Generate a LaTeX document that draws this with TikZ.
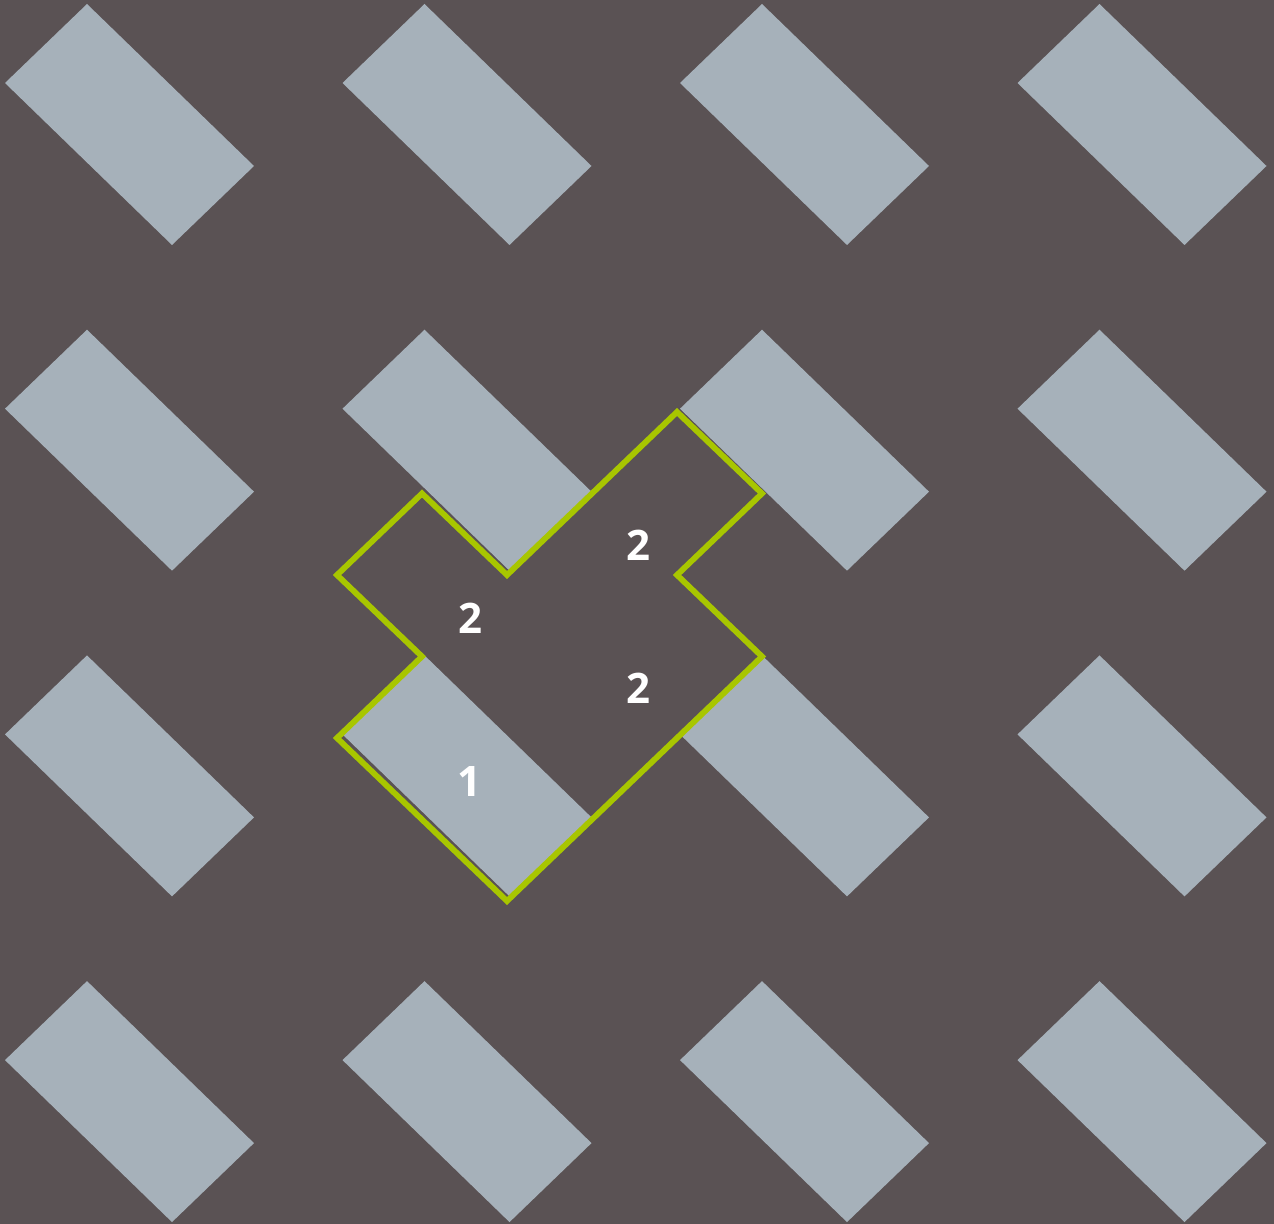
\documentclass[tikz,border=0pt]{standalone}
\usepackage{fontspec}
\setmainfont{Open Sans}
\definecolor{bgcol}{HTML}{5A5254}
\definecolor{tilecol}{HTML}{A6B1BA}
\definecolor{limecol}{HTML}{A8C600}
\begin{document}
\begin{tikzpicture}[x=0.5pt,y=-0.5pt,
  tile/.style={fill=tilecol},
  outline/.style={draw=limecol,line width=2.9pt,line join=miter},
  num/.style={text=white,font=\fontsize{21}{25}\selectfont\bfseries,inner sep=0pt}]
\fill[bgcol] (0,0) rectangle (1274,1224);
\useasboundingbox (0,0) rectangle (1274,1224);
\foreach \i in {0,...,3}{
  \foreach \j in {0,...,3}{
    \fill[tile] ({5+337.5*\i},{83+325.7*\j}) -- ++(82,-79) -- ++(167,162) -- ++(-82,79) -- cycle;
  }
}
\coordinate (p1) at (677,412);
\coordinate (p2) at (762,493.5);
\coordinate (p3) at (677,575);
\coordinate (p4) at (762,656.5);
\coordinate (p5) at (507,901);
\coordinate (p6) at (337,738);
\coordinate (p7) at (422,656.5);
\coordinate (p8) at (337,575);
\coordinate (p9) at (422,493.5);
\coordinate (p10) at (507,575);
\draw[outline] (p1) -- (p2) -- (p3) -- (p4) -- (p5) -- (p6) -- (p7) -- (p8) -- (p9) -- (p10) -- cycle;
\node[num] (n1) at (638,545) {2};
\node[num] (n2) at (470,618) {2};
\node[num] (n3) at (638,688) {2};
\node[num] (n4) at (469,782) {1};
\end{tikzpicture}
\end{document}
